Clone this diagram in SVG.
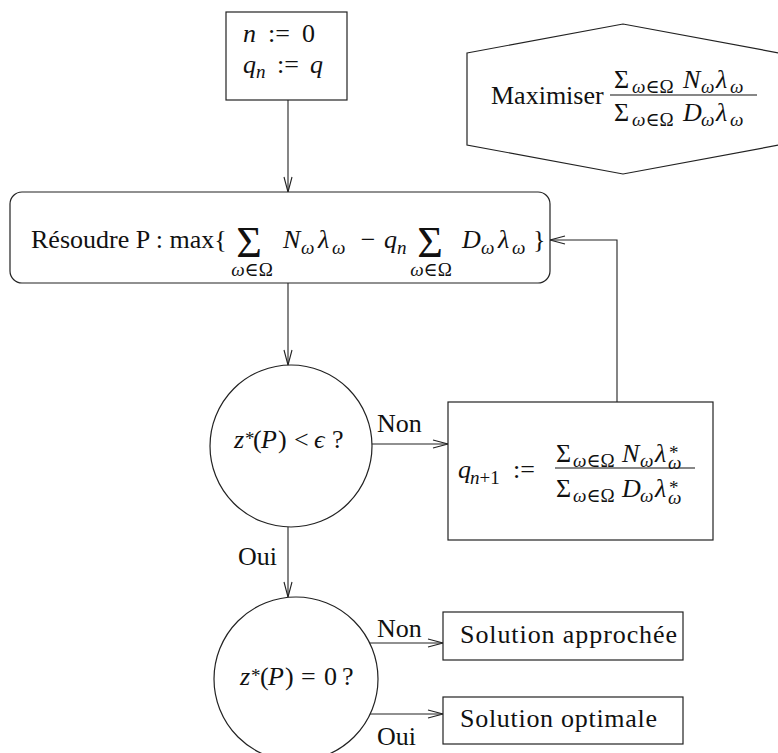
<svg xmlns="http://www.w3.org/2000/svg" width="778" height="753" viewBox="0 0 778 753">
<style>
.t{font-family:"Liberation Serif","DejaVu Serif",serif;font-size:26px;fill:#111}
.i{font-style:italic}
.s{font-size:19px}
.L{font-size:44px}
.sh{fill:#fff;stroke:#222;stroke-width:1.2}
.c{stroke:#222;stroke-width:1.1;fill:none}
</style>
<defs>
<marker id="ah" markerUnits="userSpaceOnUse" markerWidth="20" markerHeight="12" viewBox="-16 -6 20 12" refX="0" refY="0" orient="auto">
<path d="M-15,-4 L0,0 L-15,4" fill="none" stroke="#222" stroke-width="1.1"/>
</marker>
</defs>
<g id="connectors">
<line class="c" x1="288" y1="100" x2="288" y2="192" marker-end="url(#ah)"/>
<line class="c" x1="288" y1="283" x2="288" y2="365" marker-end="url(#ah)"/>
<line class="c" x1="372" y1="444" x2="448" y2="444" marker-end="url(#ah)"/>
<polyline class="c" points="617,402 617,240 550,240" marker-end="url(#ah)"/>
<line class="c" x1="288" y1="527" x2="288" y2="597" marker-end="url(#ah)"/>
<line class="c" x1="370" y1="643" x2="443" y2="643" marker-end="url(#ah)"/>
<line class="c" x1="370" y1="714" x2="443" y2="714" marker-end="url(#ah)"/>
<text class="t" x="377" y="432">Non</text>
<text class="t" x="238" y="565">Oui</text>
<text class="t" x="377" y="637">Non</text>
<text class="t" x="377" y="745">Oui</text>
</g>
<g id="init">
<rect class="sh" x="226" y="12" width="121" height="88"/>
<text class="t i" x="243" y="42">n</text>
<text class="t" x="268" y="42">:=</text>
<text class="t" x="302" y="42">0</text>
<text class="t i" x="243" y="73">q</text>
<text class="t i s" x="256" y="78">n</text>
<text class="t" x="277" y="73">:=</text>
<text class="t i" x="310" y="73">q</text>
</g>
<g id="objective">
<polygon class="sh" points="467,53 623,24 779,53 779,145 623,174 467,145"/>
<text class="t" x="491" y="104">Maximiser</text>
<line x1="610" y1="95" x2="757" y2="95" stroke="#111" stroke-width="1.1"/>
<text class="t" x="614" y="88">Σ</text>
<text class="t s" x="632" y="93"><tspan class="i">ω</tspan>∈Ω</text>
<text class="t i" x="683" y="88">N</text>
<text class="t i s" x="701" y="93">ω</text>
<text class="t i" x="716" y="88">λ</text>
<text class="t i s" x="730" y="93">ω</text>
<text class="t" x="614" y="121">Σ</text>
<text class="t s" x="632" y="126"><tspan class="i">ω</tspan>∈Ω</text>
<text class="t i" x="683" y="121">D</text>
<text class="t i s" x="701" y="126">ω</text>
<text class="t i" x="716" y="121">λ</text>
<text class="t i s" x="730" y="126">ω</text>
</g>
<g id="solve">
<rect class="sh" x="10" y="192" width="540" height="91" rx="12"/>
<text class="t" x="31" y="248">Résoudre P : max{</text>
<text class="t L" x="249" y="257" text-anchor="middle">Σ</text>
<text class="t s" x="252" y="276" text-anchor="middle"><tspan class="i">ω</tspan>∈Ω</text>
<text class="t i" x="283" y="248">N</text>
<text class="t i s" x="301" y="254">ω</text>
<text class="t i" x="318" y="248">λ</text>
<text class="t i s" x="332" y="254">ω</text>
<text class="t" x="368" y="248" text-anchor="middle">−</text>
<text class="t i" x="384" y="248">q</text>
<text class="t i s" x="397" y="254">n</text>
<text class="t L" x="430" y="257" text-anchor="middle">Σ</text>
<text class="t s" x="431" y="276" text-anchor="middle"><tspan class="i">ω</tspan>∈Ω</text>
<text class="t i" x="462" y="248">D</text>
<text class="t i s" x="481" y="254">ω</text>
<text class="t i" x="498" y="248">λ</text>
<text class="t i s" x="512" y="254">ω</text>
<text class="t" x="533" y="248">}</text>
</g>
<g id="test1">
<circle class="sh" cx="291" cy="446" r="81"/>
<text class="t i" x="234" y="448">z</text>
<text class="t s" x="245" y="445">*</text>
<text class="t" x="253" y="448">(</text>
<text class="t i" x="261" y="448">P</text>
<text class="t" x="278" y="448">)</text>
<text class="t" x="294" y="448">&lt;</text>
<text class="t i" x="314" y="448">ϵ</text>
<text class="t" x="332" y="448">?</text>
</g>
<g id="update">
<rect class="sh" x="448" y="402" width="265" height="138"/>
<text class="t i" x="458" y="478">q</text>
<text class="t s" x="470" y="484"><tspan class="i">n</tspan>+1</text>
<text class="t" x="513" y="478">:=</text>
<line x1="555" y1="468" x2="695" y2="468" stroke="#111" stroke-width="1.1"/>
<text class="t" x="556" y="462">Σ</text>
<text class="t s" x="573" y="467"><tspan class="i">ω</tspan>∈Ω</text>
<text class="t i" x="622" y="462">N</text>
<text class="t i s" x="640" y="467">ω</text>
<text class="t i" x="655" y="462">λ</text>
<text class="t s" x="669" y="459">*</text>
<text class="t i s" x="668" y="469">ω</text>
<text class="t" x="556" y="497">Σ</text>
<text class="t s" x="573" y="502"><tspan class="i">ω</tspan>∈Ω</text>
<text class="t i" x="622" y="497">D</text>
<text class="t i s" x="640" y="502">ω</text>
<text class="t i" x="655" y="497">λ</text>
<text class="t s" x="669" y="494">*</text>
<text class="t i s" x="668" y="504">ω</text>
</g>
<g id="test2">
<circle class="sh" cx="296" cy="679" r="82"/>
<text class="t i" x="240" y="685">z</text>
<text class="t s" x="251" y="682">*</text>
<text class="t" x="260" y="685">(</text>
<text class="t i" x="268" y="685">P</text>
<text class="t" x="285" y="685">)</text>
<text class="t" x="301" y="685">=</text>
<text class="t" x="324" y="685">0</text>
<text class="t" x="342" y="685">?</text>
</g>
<g id="approx">
<rect class="sh" x="443" y="612" width="240" height="48"/>
<text class="t" x="460" y="643" textLength="217" lengthAdjust="spacing">Solution approchée</text>
</g>
<g id="optimal">
<rect class="sh" x="443" y="697" width="240" height="47"/>
<text class="t" x="460" y="727" textLength="197" lengthAdjust="spacing">Solution optimale</text>
</g>
</svg>
